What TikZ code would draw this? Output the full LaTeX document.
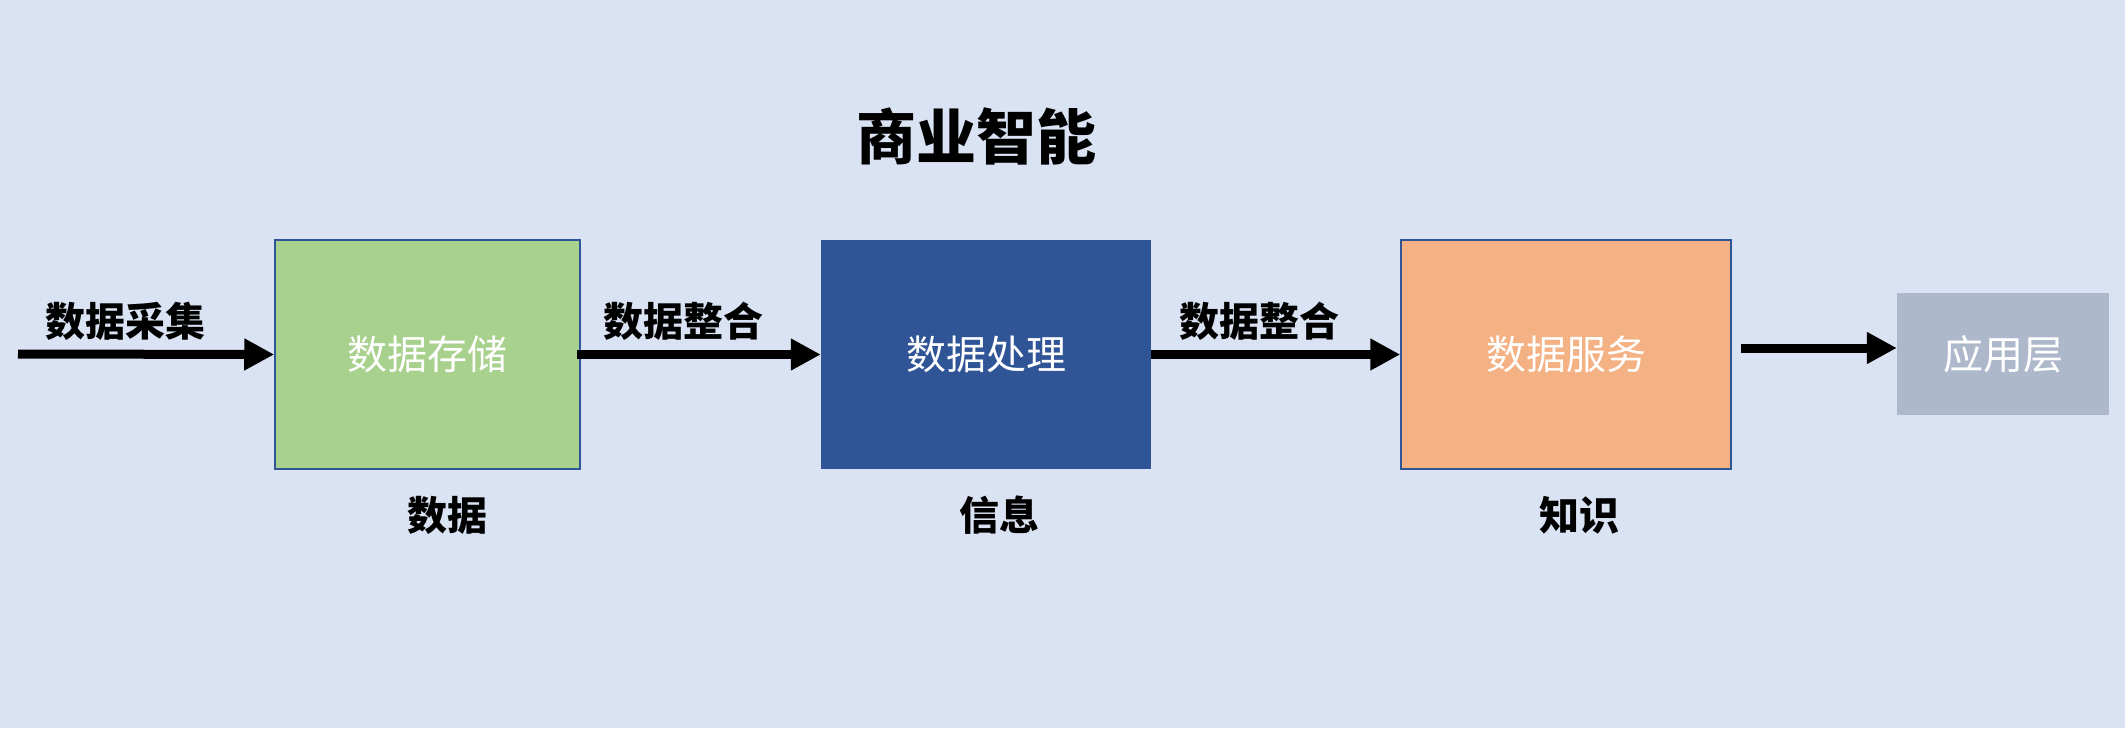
\documentclass[tikz,border=0pt]{standalone}
\usepackage{fontspec}
\setmainfont{Noto Sans CJK SC}
\newfontfamily\cjk{Noto Sans CJK SC}
\usetikzlibrary{arrows.meta}
\definecolor{bgc}{HTML}{DAE3F3}
\definecolor{greenc}{HTML}{A9D18E}
\definecolor{bluec}{HTML}{2F5597}
\definecolor{orangec}{HTML}{F4B183}
\definecolor{grayc}{HTML}{ADB9CA}
\tikzset{
  box/.style={rectangle, inner sep=0pt, minimum width=330pt, minimum height=229pt, text=white, font=\cjk\fontsize{40}{48}\selectfont},
  bigarrow/.style={line width=9pt, -{Triangle[length=30pt,width=30pt]}},
  albl/.style={font=\cjk\bfseries\fontsize{40}{48}\selectfont, inner sep=0pt},
}
\begin{document}
\begin{tikzpicture}[x=1pt,y=-1pt]
\useasboundingbox (0,0) rectangle (2125,728);
\fill[bgc] (0,0) rectangle (2125,728);
\node[font=\cjk\bfseries\fontsize{60}{72}\selectfont, inner sep=0pt] (title) at (976,136) {商业智能};
\node[box, minimum width=305pt, fill=greenc, draw=bluec, line width=1.5pt] (b1) at (427.5,354.5) {数据存储};
\node[box, fill=bluec] (b2) at (986,354.5) {数据处理};
\node[box, fill=orangec, draw=bluec, line width=1.5pt] (b3) at (1566,354.5) {数据服务};
\node[box, fill=grayc, minimum width=212pt, minimum height=122pt] (b4) at (2003,354) {应用层};
\coordinate (s1) at (18,354);
\coordinate (s4) at (1741,348);
\draw[bigarrow] (s1) -- (b1.west);
\draw[bigarrow] ([xshift=-4pt]b1.east) -- (b2.west);
\draw[bigarrow] (b2.east) -- (b3.west);
\draw[bigarrow] (s4) -- (s4 -| b4.west);
\node[albl] (l1) at (125,321) {数据采集};
\node[albl] (l2) at (683,321) {数据整合};
\node[albl] (l3) at (1259,321) {数据整合};
\node[albl] (d1) at (447,515) {数据};
\node[albl] (d2) at (999,515) {信息};
\node[albl] (d3) at (1579,515) {知识};
\end{tikzpicture}
\end{document}
